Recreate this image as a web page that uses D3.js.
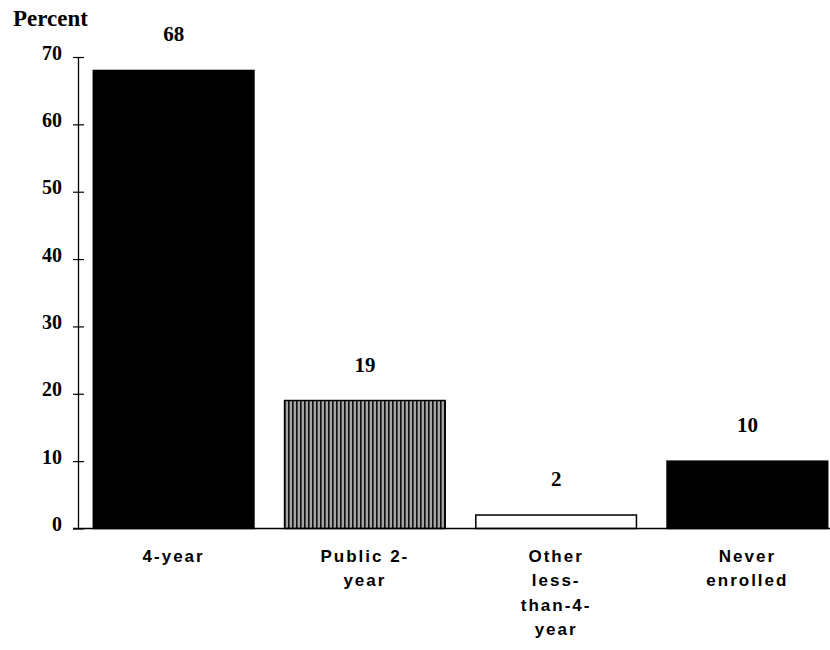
<!DOCTYPE html>
<html>
<head>
<meta charset="utf-8">
<script src="https://cdn.jsdelivr.net/npm/d3@7"></script>
<style>
  body { margin: 0; background: #fff; }
  svg { display: block; }
</style>
</head>
<body>
<div id="chart"></div>
<script>
const CATEGORIES = ["4-year", "Public 2-year", "Other less-than-4-year", "Never enrolled"];
const CATEGORY_LINES = [["4-year"], ["Public 2-", "year"], ["Other", "less-", "than-4-", "year"], ["Never", "enrolled"]];
const VALUES = [68, 19, 2, 10];
const FILLS = ["#000", "url(#stripes)", "#fff", "#000"];
const Y_TICKS = [0, 10, 20, 30, 40, 50, 60, 70];

const W = 830, H = 650;
const M = { top: 57, left: 78, right: -13, bottom: 121 };

const svg = d3.select("#chart").append("svg").attr("width", W).attr("height", H);

// vertical stripe fill for the second bar
const pat = svg.append("defs").append("pattern")
  .attr("id", "stripes").attr("patternUnits", "userSpaceOnUse")
  .attr("width", 4).attr("height", 4);
pat.append("rect").attr("width", 4).attr("height", 4).attr("fill", "#cfcfcf");
pat.append("rect").attr("x", 0).attr("width", 1.7).attr("height", 4).attr("fill", "#111");
pat.append("rect").attr("x", 2.6).attr("width", 0.8).attr("height", 4).attr("fill", "#666");

const y = d3.scaleLinear().domain([0, 70]).range([H - M.bottom - 0.5, M.top]);
const x = d3.scaleBand().domain(CATEGORIES).range([M.left, W - M.right])
  .paddingInner(0.16).paddingOuter(0.08);

const serif = "'Liberation Serif', 'Times New Roman', serif";
const sans = "'Liberation Sans Narrow', 'Arial Narrow', 'Liberation Sans', Arial, sans-serif";

// y axis
const yAxis = d3.axisLeft(y).tickValues(Y_TICKS).tickSize(0).tickPadding(16);
const ya = svg.append("g").attr("transform", `translate(${M.left},0)`).call(yAxis);
ya.select(".domain").attr("stroke", "#000").attr("stroke-width", 1.3);
ya.selectAll(".tick text")
  .attr("dy", "0.1em")
  .attr("font-family", serif).attr("font-weight", "bold").attr("font-size", 20).attr("fill", "#000");
ya.selectAll(".tick").append("line")
  .attr("x1", -5).attr("x2", 6).attr("stroke", "#000").attr("stroke-width", 1.2);

svg.append("text").attr("x", 13).attr("y", 26)
  .attr("font-family", serif).attr("font-weight", "bold").attr("font-size", 23)
  .text("Percent");

// bars
svg.append("g").selectAll("rect").data(CATEGORIES).join("rect")
  .attr("x", d => x(d))
  .attr("y", (d, i) => y(VALUES[i]))
  .attr("width", x.bandwidth())
  .attr("height", (d, i) => y(0) - y(VALUES[i]))
  .attr("fill", (d, i) => FILLS[i])
  .attr("stroke", "#000").attr("stroke-width", 1.5);

// baseline
svg.append("line")
  .attr("x1", M.left - 5).attr("x2", W).attr("y1", y(0)).attr("y2", y(0))
  .attr("stroke", "#000").attr("stroke-width", 1.3);

// value labels
svg.append("g").selectAll("text").data(CATEGORIES).join("text")
  .attr("x", d => x(d) + x.bandwidth() / 2)
  .attr("y", (d, i) => y(VALUES[i]) - 29)
  .attr("text-anchor", "middle")
  .attr("font-family", serif).attr("font-weight", "bold").attr("font-size", 21)
  .text((d, i) => VALUES[i]);

// category labels
const cat = svg.append("g").selectAll("text").data(CATEGORIES).join("text")
  .attr("x", d => x(d) + x.bandwidth() / 2)
  .attr("y", y(0) + 33)
  .attr("text-anchor", "middle")
  .attr("font-family", sans).attr("font-weight", "bold").attr("font-size", 17)
  .attr("letter-spacing", 2);
cat.each(function (d, i) {
  d3.select(this).selectAll("tspan").data(CATEGORY_LINES[i]).join("tspan")
    .attr("x", x(d) + x.bandwidth() / 2)
    .attr("dy", (t, j) => j === 0 ? 0 : 24.5)
    .text(t => t);
});
</script>
</body>
</html>
